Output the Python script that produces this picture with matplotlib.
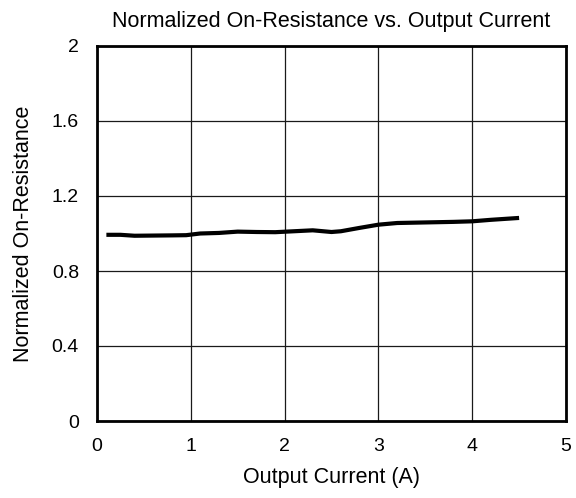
import matplotlib
matplotlib.use("Agg")
import matplotlib.pyplot as plt

plt.rcParams['font.family'] = ['Liberation Sans', 'DejaVu Sans']

current = [0.1, 0.25, 0.4, 0.6, 0.8, 0.95, 1.1, 1.3, 1.5, 1.7, 1.9, 2.1, 2.3, 2.5, 2.6, 2.8, 3.0, 3.2, 3.4, 3.6, 3.8, 4.0, 4.2, 4.5]
resistance = [0.993, 0.993, 0.988, 0.989, 0.990, 0.991, 1.000, 1.003, 1.010, 1.008, 1.007, 1.012, 1.017, 1.008, 1.012, 1.030, 1.047, 1.056, 1.058, 1.060, 1.062, 1.065, 1.073, 1.083]

xticks = [0, 1, 2, 3, 4, 5]
yticks = [0, 0.4, 0.8, 1.2, 1.6, 2.0]
ytick_labels = ['0', '0.4', '0.8', '1.2', '1.6', '2']

fig = plt.figure(figsize=(5.76, 4.98), dpi=100)
ax = fig.add_axes([97/576, 1-421/498, (566-97)/576, (421-46)/498])
ax.plot(current, resistance, color='black', linewidth=3, solid_capstyle='butt')
ax.set_xlim(0, 5)
ax.set_ylim(0, 2)
ax.set_xticks(xticks)
ax.set_xticklabels([str(t) for t in xticks])
ax.set_yticks(yticks)
ax.set_yticklabels(ytick_labels)
ax.grid(True, color='#1a1a1a', linewidth=0.9)
ax.set_axisbelow(True)
ax.tick_params(length=0, labelsize=14)
ax.tick_params(axis='x', pad=12)
ax.tick_params(axis='y', pad=13)
for s in ax.spines.values():
    s.set_linewidth(2)
ax.set_xlabel('Output Current (A)', fontsize=15.5, labelpad=9)
ax.set_ylabel('Normalized On-Resistance', fontsize=15.5, labelpad=13)
ax.set_title('Normalized On-Resistance vs. Output Current', fontsize=15.5, pad=14)
fig.savefig('out.png', dpi=100)
